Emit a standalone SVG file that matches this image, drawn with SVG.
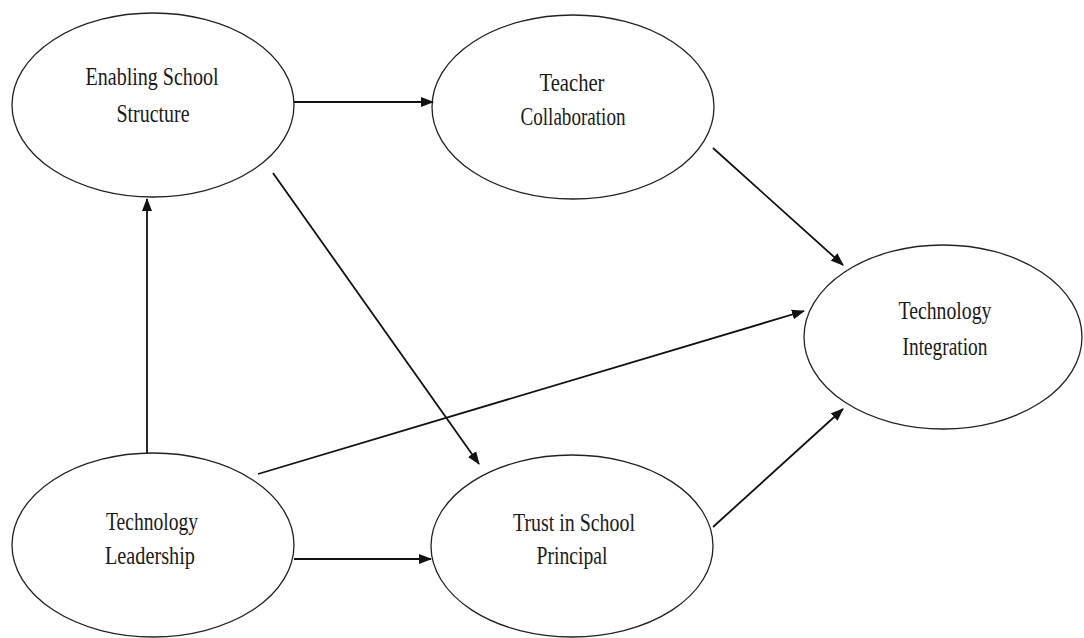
<svg xmlns="http://www.w3.org/2000/svg" width="1084" height="638" viewBox="0 0 1084 638">
<style>
.node ellipse{fill:#fff;stroke:#222;stroke-width:1.3}
.node text{font-family:"Liberation Serif","Times New Roman",serif;font-size:25px;fill:#1a1a1a;text-anchor:middle}
.edges line{stroke:#111;stroke-width:1.8;marker-end:url(#ah)}
</style>
<defs>
<marker id="ah" markerUnits="userSpaceOnUse" markerWidth="13" markerHeight="11" viewBox="0 0 13 11" refX="12" refY="5.5" orient="auto">
<path d="M0,0.5 L13,5.5 L0,10.5 z" fill="#111"/>
</marker>
</defs>
<rect width="1084" height="638" fill="#fff"/>
<g id="ess" class="node">
<ellipse cx="153" cy="105" rx="141" ry="92"/>
<text x="152" y="85" textLength="133" lengthAdjust="spacingAndGlyphs">Enabling School</text>
<text x="153" y="122" textLength="73" lengthAdjust="spacingAndGlyphs">Structure</text>
</g>
<g id="tc" class="node">
<ellipse cx="573" cy="107" rx="141" ry="92"/>
<text x="572" y="91" textLength="65" lengthAdjust="spacingAndGlyphs">Teacher</text>
<text x="573" y="125" textLength="105" lengthAdjust="spacingAndGlyphs">Collaboration</text>
</g>
<g id="ti" class="node">
<ellipse cx="943" cy="337" rx="139" ry="92"/>
<text x="945" y="319" textLength="93" lengthAdjust="spacingAndGlyphs">Technology</text>
<text x="945" y="355" textLength="85" lengthAdjust="spacingAndGlyphs">Integration</text>
</g>
<g id="tl" class="node">
<ellipse cx="153" cy="545" rx="141" ry="92"/>
<text x="152" y="530" textLength="92" lengthAdjust="spacingAndGlyphs">Technology</text>
<text x="150" y="564" textLength="90" lengthAdjust="spacingAndGlyphs">Leadership</text>
</g>
<g id="tsp" class="node">
<ellipse cx="572" cy="546" rx="141" ry="91"/>
<text x="574" y="531" textLength="122" lengthAdjust="spacingAndGlyphs">Trust in School</text>
<text x="572" y="564" textLength="71" lengthAdjust="spacingAndGlyphs">Principal</text>
</g>
<g id="connectors" class="edges">
<line x1="294" y1="102" x2="433" y2="102"/>
<line x1="713" y1="148" x2="843" y2="265"/>
<line x1="258" y1="474" x2="804" y2="311"/>
<line x1="713" y1="527" x2="843" y2="409"/>
<line x1="147" y1="453" x2="147" y2="199"/>
<line x1="273" y1="173" x2="479" y2="464"/>
<line x1="294" y1="559" x2="431" y2="559"/>
</g>
</svg>
